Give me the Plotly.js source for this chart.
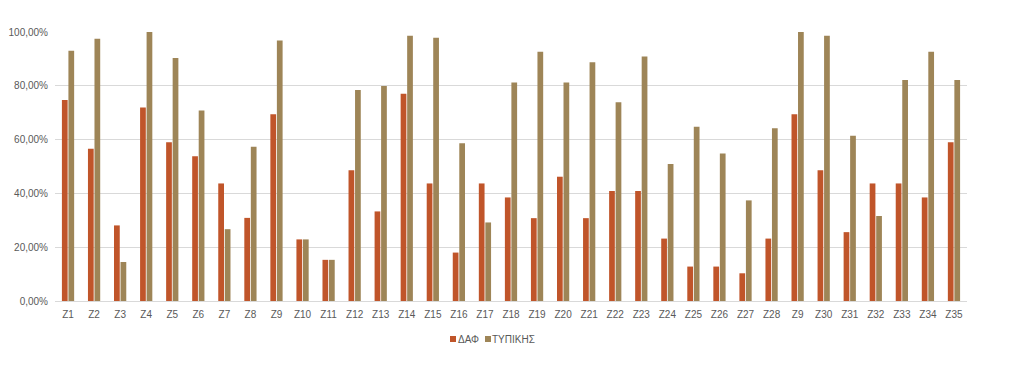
<!DOCTYPE html>
<html>
<head>
<meta charset="utf-8">
<script src="https://cdn.plot.ly/plotly-3.0.1.min.js"></script>
<style>html,body{margin:0;padding:0;background:#fff;}#chart{width:1024px;height:382px;}</style>
</head>
<body>
<div id="chart"></div>
<script>
const categories = ["Z1","Z2","Z3","Z4","Z5","Z6","Z7","Z8","Z9","Z10","Z11","Z12","Z13","Z14","Z15","Z16","Z17","Z18","Z19","Z20","Z21","Z22","Z23","Z24","Z25","Z26","Z27","Z28","Z9","Z30","Z31","Z32","Z33","Z34","Z35"];
const dafValues = [0.747,0.566,0.281,0.719,0.590,0.538,0.437,0.309,0.694,0.229,0.153,0.486,0.333,0.770,0.437,0.180,0.437,0.385,0.308,0.462,0.308,0.409,0.409,0.232,0.128,0.128,0.103,0.232,0.694,0.486,0.256,0.437,0.437,0.385,0.590];
const typikisValues = [0.930,0.975,0.145,1.000,0.903,0.708,0.267,0.573,0.968,0.229,0.153,0.784,0.799,0.986,0.979,0.586,0.292,0.812,0.927,0.812,0.888,0.739,0.909,0.509,0.648,0.548,0.374,0.642,1.000,0.986,0.614,0.316,0.822,0.927,0.822];
const seriesNames = ["ΔΑΦ","ΤΥΠΙΚΗΣ"];
const seriesColors = ["#C0552A","#9E8557"];
const yTicks = [0,0.2,0.4,0.6,0.8,1.0];

const idx = categories.map((_, i) => i);
const data = [
  {type:"bar", x: idx, y: dafValues, name: seriesNames[0], marker:{color:seriesColors[0]}},
  {type:"bar", x: idx, y: typikisValues, name: seriesNames[1], marker:{color:seriesColors[1]}}
];

// custom legend (small squares + text), positioned in paper coordinates
const W = 1024, H = 382, mL = 55, mR = 57, mT = 32, mB = 81;
const pw = W - mL - mR, ph = H - mT - mB;
const px = v => (v - mL) / pw;
const py = v => (H - mB - v) / ph;
const legendItems = [{sq:450, tx:456}, {sq:485, tx:490}];
const legendY = 339;
const shapes = [], annotations = [];
legendItems.forEach((it, i) => {
  shapes.push({type:"rect", xref:"paper", yref:"paper",
    x0:px(it.sq), x1:px(it.sq+6), y0:py(legendY+3), y1:py(legendY-3),
    fillcolor:seriesColors[i], line:{width:0}});
  annotations.push({xref:"paper", yref:"paper", x:px(it.tx), y:py(legendY),
    xanchor:"left", yanchor:"middle", showarrow:false, text:seriesNames[i],
    font:{size:10, color:"#595959"}});
});

const layout = {
  width:W, height:H,
  margin:{l:mL, r:mR, t:mT, b:mB},
  paper_bgcolor:"#fff", plot_bgcolor:"#fff",
  separators:",.",
  barmode:"group", bargap:0.5, bargroupgap:0.12,
  font:{family:"Liberation Sans, Arial, sans-serif", size:10, color:"#595959"},
  xaxis:{
    tickmode:"array", tickvals: idx, ticktext: categories,
    range:[-0.5, categories.length-0.5],
    showgrid:false, zeroline:false, showline:true, linecolor:"#D9D9D9", linewidth:1,
    ticks:"", tickfont:{size:10, color:"#595959"}, ticklabelstandoff:4
  },
  yaxis:{
    range:[0,1], tickvals: yTicks, tickformat:".2%",
    showgrid:true, gridcolor:"#D9D9D9", gridwidth:1, zeroline:false, showline:false,
    ticks:"", tickfont:{size:10, color:"#595959"}, ticklabelstandoff:6
  },
  showlegend:false,
  shapes: shapes,
  annotations: annotations
};
Plotly.newPlot("chart", data, layout, {displayModeBar:false, staticPlot:true});
</script>
</body>
</html>
